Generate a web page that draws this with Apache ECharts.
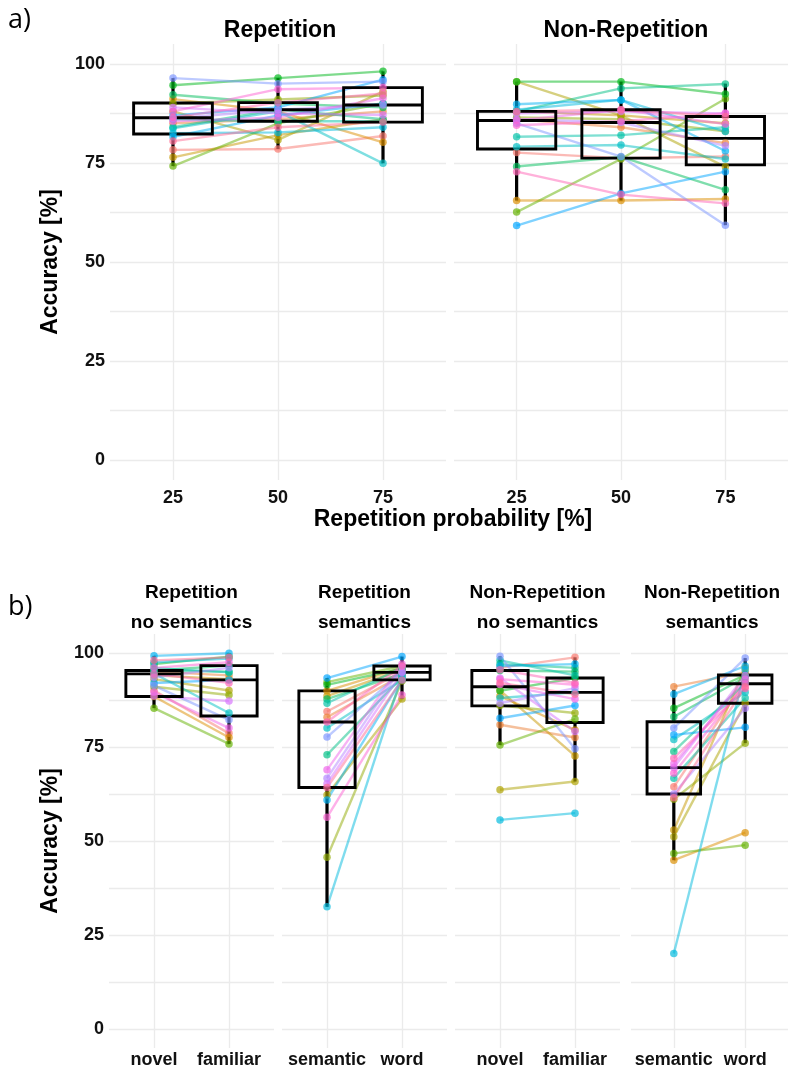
<!DOCTYPE html>
<html>
<head>
<meta charset="utf-8">
<script src="https://cdn.jsdelivr.net/npm/echarts@6/dist/echarts.min.js"></script>
<style>
  html, body { margin: 0; padding: 0; background: #fff; }
  #chart { width: 788px; height: 1072px; }
</style>
</head>
<body>
<div id="chart"></div>
<script>
// ---- data ----
const probLabels = ['25', '50', '75'];
const panelAFacets = ['Repetition', 'Non-Repetition'];
const panelBFacets = ['Repetition\nno semantics', 'Repetition\nsemantics', 'Non-Repetition\nno semantics', 'Non-Repetition\nsemantics'];
const panelBCats = [['novel', 'familiar'], ['semantic', 'word'], ['novel', 'familiar'], ['semantic', 'word']];
const yTicks = [0, 25, 50, 75, 100];
const yGrid = [0, 12.5, 25, 37.5, 50, 62.5, 75, 87.5, 100];

// one value per participant (same order in every array)
const rep25 = [78.3, 85, 91.1, 76.4, 88, 90, 74.2, 94.6, 92.2, 84, 86, 83.7, 82.5, 81.6, 87, 96.4, 86.2, 89, 85.5, 88, 86.5, 80.5];
const rep50 = [78.5, 86, 88, 82, 80.8, 91, 85, 96.4, 90, 88.5, 85.5, 88, 82.7, 87, 89, 95, 88.4, 87.5, 86.5, 93.6, 90.2, 84];
const rep75 = [81.8, 88, 80.2, 86, 93, 92, 90, 98.1, 89, 86, 85.5, 74.9, 84, 90, 96, 95.5, 89.6, 87.1, 91.3, 94, 92.5, 85.3];
const nonRep25 = [77.6, 86, 65.5, 88, 95.5, 86.5, 62.6, 95.5, 74.1, 88, 81.6, 79.1, 88.4, 89.8, 59.2, 85, 86, 87.5, 85.7, 84.5, 72.8, 88];
const nonRep50 = [76.2, 84, 65.5, 87, 87, 86, 76, 95.5, 76.5, 93.8, 82, 79.5, 90.9, 90.9, 67.3, 76.6, 85.2, 88, 88.4, 85.5, 67, 88.4];
const nonRep75 = [76.6, 80, 65.9, 85, 74, 83, 91.2, 92.4, 68.2, 94.9, 84, 76, 82.9, 78, 72.8, 59.3, 79.3, 87.5, 84.8, 87.5, 64.8, 86.7];

const repNoSemNovel = [90, 95, 88.4, 94, 93, 91, 85.3, 97, 95.3, 95.3, 96, 94.5, 97.5, 99.2, 92, 91.3, 93.5, 88.5, 89.5, 96, 94.4, 98];
const repNoSemFamiliar = [78.6, 94, 77.5, 93, 90, 88.8, 75.8, 99, 96.6, 95, 94.8, 84, 98.5, 99.9, 92.8, 82.2, 96, 87.2, 80, 97.5, 92, 98.8];
const repSemSemantic = [84.4, 82.9, 89.9, 88.5, 62.2, 45.7, 92.2, 91.5, 87.7, 72.9, 86.6, 80, 32.5, 60.9, 93.3, 77.6, 66.7, 65.2, 68.9, 56.3, 81.6, 64.2];
const repSemWord = [95, 94, 96, 95.5, 87.7, 92.5, 96.5, 95.8, 94.5, 93.5, 96, 92.8, 94, 93, 99, 95, 96.2, 94.8, 97, 88.8, 96.5, 92.8];
const nonRepNoSemNovel = [96, 80.9, 88.5, 90, 63.6, 86, 75.5, 89.9, 95.3, 97, 98, 88, 55.6, 96.5, 82.6, 99.1, 86.6, 93.3, 91.6, 93, 95.5, 92];
const nonRepNoSemFamiliar = [98.8, 77.5, 79.5, 72.6, 65.8, 84, 82.4, 93.3, 95, 96, 94, 89.5, 57.4, 97, 86, 74.5, 90.6, 79.1, 87.7, 91.5, 92, 89];
const nonRepSemSemantic = [64.4, 91, 44.9, 52.9, 51.1, 61.1, 46.7, 85.3, 83, 73.8, 66.7, 77, 20.1, 89, 78.2, 80, 62.5, 69.5, 70.5, 68, 72, 61.5];
const nonRepSemWord = [92.5, 94.8, 52.2, 96, 86.6, 76, 48.9, 94.1, 93.5, 92, 88, 89.5, 95.5, 96.5, 80.2, 98.6, 85.3, 94, 93, 91.8, 90.5, 91];

// box stats: [lower whisker, Q1, median, Q3, upper whisker]
const boxRep = [[74.2, 82.3, 86.4, 90.1, 96.4], [78.5, 85.5, 88.4, 90.2, 96.4], [74.9, 85.3, 89.6, 94.0, 98.1]];
const boxNonRep = [[65.5, 78.5, 85.7, 88.0, 95.5], [65.5, 76.2, 85.2, 88.4, 95.5], [59.3, 74.5, 81.2, 86.7, 95.0]];
const boxRepNoSem = [[85.3, 88.4, 94.4, 95.3, 99.2], [75.8, 83.2, 92.8, 96.6, 99.9]];
const boxRepSem = [[32.5, 64.2, 81.6, 89.9, 93.3], [87.7, 92.8, 94.8, 96.5, 99.0]];
const boxNonRepNoSem = [[75.5, 85.9, 91.0, 95.3, 99.1], [65.8, 81.5, 89.5, 93.3, 98.8]];
const boxNonRepSem = [[44.9, 62.5, 69.5, 81.7, 90.2], [76.0, 86.6, 91.8, 94.1, 98.6]];

// ---- layout ----
const facets = [
  { cats: probLabels, values: [rep25, rep50, rep75], box: boxRep, grid: { left: 110, top: 44, width: 336, height: 436 }, yLabels: true },
  { cats: probLabels, values: [nonRep25, nonRep50, nonRep75], box: boxNonRep, grid: { left: 454, top: 44, width: 341, height: 436 } },
  { cats: panelBCats[0], values: [repNoSemNovel, repNoSemFamiliar], box: boxRepNoSem, grid: { left: 109, top: 634, width: 165, height: 414 }, yLabels: true, small: true },
  { cats: panelBCats[1], values: [repSemSemantic, repSemWord], box: boxRepSem, grid: { left: 282, top: 634, width: 165, height: 414 }, small: true },
  { cats: panelBCats[2], values: [nonRepNoSemNovel, nonRepNoSemFamiliar], box: boxNonRepNoSem, grid: { left: 455, top: 634, width: 165, height: 414 }, small: true },
  { cats: panelBCats[3], values: [nonRepSemSemantic, nonRepSemWord], box: boxNonRepSem, grid: { left: 631, top: 634, width: 165, height: 414 }, small: true }
];

const FONT = '"Liberation Sans", Arial, sans-serif';
const nPart = rep25.length;

// ggplot-like hue palette (hcl, l=65, c=100)
function hueColor(i, n, alpha) {
  const h = (15 + 360 * i / n) * Math.PI / 180;
  const L = 65, C = 100;
  const U = C * Math.cos(h), V = C * Math.sin(h);
  const Xn = 95.047, Yn = 100, Zn = 108.883;
  const den = Xn + 15 * Yn + 3 * Zn;
  const un = 4 * Xn / den, vn = 9 * Yn / den;
  const Y = Yn * Math.pow((L + 16) / 116, 3);
  const u = U / (13 * L) + un, v = V / (13 * L) + vn;
  const X = Y * 9 * u / (4 * v), Z = Y * (12 - 3 * u - 20 * v) / (4 * v);
  const x = X / 100, y = Y / 100, z = Z / 100;
  const r = 3.2406 * x - 1.5372 * y - 0.4986 * z;
  const g = -0.9689 * x + 1.8758 * y + 0.0415 * z;
  const b = 0.0557 * x - 0.2040 * y + 1.0570 * z;
  const gam = c => {
    c = c <= 0.0031308 ? 12.92 * c : 1.055 * Math.pow(c, 1 / 2.4) - 0.055;
    return Math.round(255 * Math.min(1, Math.max(0, c)));
  };
  return 'rgba(' + gam(r) + ',' + gam(g) + ',' + gam(b) + ',' + alpha + ')';
}

function renderBox(params, api) {
  const x = api.value(0);
  const lo = api.coord([x, api.value(1)]);
  const q1 = api.coord([x, api.value(2)]);
  const md = api.coord([x, api.value(3)]);
  const q3 = api.coord([x, api.value(4)]);
  const hi = api.coord([x, api.value(5)]);
  const w = api.size([0.75, 0])[0];
  const style = { stroke: '#000', lineWidth: 2.9, fill: null };
  const wStyle = { stroke: '#000', lineWidth: 3.2 };
  return {
    type: 'group',
    children: [
      { type: 'line', shape: { x1: lo[0], y1: lo[1], x2: q1[0], y2: q1[1] }, style: wStyle },
      { type: 'line', shape: { x1: q3[0], y1: q3[1], x2: hi[0], y2: hi[1] }, style: wStyle },
      { type: 'rect', shape: { x: q3[0] - w / 2, y: q3[1], width: w, height: q1[1] - q3[1] }, style: style },
      { type: 'line', shape: { x1: md[0] - w / 2, y1: md[1], x2: md[0] + w / 2, y2: md[1] }, style: style }
    ]
  };
}

const grids = [], xAxes = [], yAxes = [], series = [];
facets.forEach((f, gi) => {
  grids.push(Object.assign({ containLabel: false }, f.grid));
  const cats = f.cats;
  xAxes.push({
    type: 'value', gridIndex: gi, min: 0.4, max: cats.length + 0.6,
    axisLine: { show: false },
    axisTick: { show: false, customValues: cats.map((c, i) => i + 1) },
    axisLabel: {
      customValues: cats.map((c, i) => i + 1),
      formatter: v => cats[Math.round(v) - 1] || '',
      fontFamily: FONT, fontWeight: 'bold', fontSize: 18, color: '#111',
      margin: f.small ? 3 : 9
    },
    splitLine: { show: true, lineStyle: { color: '#ebebeb', width: 1.3 } }
  });
  yAxes.push({
    type: 'value', gridIndex: gi, min: -5, max: 105,
    axisLine: { show: false },
    axisTick: { show: false, customValues: yGrid },
    axisLabel: {
      show: !!f.yLabels, customValues: yTicks,
      fontFamily: FONT, fontWeight: 'bold', fontSize: 18, color: '#111', margin: 5
    },
    splitLine: { show: true, lineStyle: { color: '#ebebeb', width: 1.3 } }
  });
  // participant lines
  for (let p = 0; p < nPart; p++) {
    series.push({
      type: 'line', xAxisIndex: gi, yAxisIndex: gi, silent: true, z: 1,
      symbol: 'none', animation: false,
      data: f.values.map((arr, ci) => [ci + 1, arr[p]]),
      lineStyle: { color: hueColor(p, nPart, 0.5), width: 2.4 }
    });
  }
  // boxplots
  series.push({
    type: 'custom', xAxisIndex: gi, yAxisIndex: gi, z: 2, silent: true, animation: false,
    renderItem: renderBox,
    data: f.box.map((b, ci) => [ci + 1].concat(b))
  });
  // participant points
  const pts = [];
  f.values.forEach((arr, ci) => {
    arr.forEach((v, p) => {
      pts.push({ value: [ci + 1, v], itemStyle: { color: hueColor(p, nPart, 0.85) } });
    });
  });
  series.push({
    type: 'scatter', xAxisIndex: gi, yAxisIndex: gi, z: 3, silent: true, animation: false,
    symbolSize: 7.5, data: pts
  });
});

const titleFont = (size) => 'bold ' + size + 'px ' + FONT;
const graphics = [
  { type: 'text', x: 8, y: 20, style: { text: 'a)', font: '27px "Open Sans", sans-serif', fill: '#000', verticalAlign: 'middle' } },
  { type: 'text', x: 8, y: 607, style: { text: 'b)', font: '27px "Open Sans", sans-serif', fill: '#000', verticalAlign: 'middle' } },
  { type: 'text', x: 280, y: 31, style: { text: panelAFacets[0], font: titleFont(23), fill: '#000', align: 'center', verticalAlign: 'middle' } },
  { type: 'text', x: 626, y: 31, style: { text: panelAFacets[1], font: titleFont(23), fill: '#000', align: 'center', verticalAlign: 'middle' } },
  { type: 'text', x: 453, y: 520, style: { text: 'Repetition probability [%]', font: titleFont(23), fill: '#000', align: 'center', verticalAlign: 'middle' } },
  { type: 'text', x: 51, y: 262, rotation: Math.PI / 2, style: { text: 'Accuracy [%]', font: titleFont(23), fill: '#000', align: 'center', verticalAlign: 'middle' } },
  { type: 'text', x: 51, y: 841, rotation: Math.PI / 2, style: { text: 'Accuracy [%]', font: titleFont(23), fill: '#000', align: 'center', verticalAlign: 'middle' } }
];
const bCenters = [191.5, 364.5, 537.5, 712];
panelBFacets.forEach((t, i) => {
  graphics.push({ type: 'text', x: bCenters[i], y: 608, style: { text: t, font: titleFont(19), lineHeight: 30, fill: '#000', align: 'center', verticalAlign: 'middle' } });
});

const chart = echarts.init(document.getElementById('chart'));
chart.setOption({
  backgroundColor: '#fff',
  animation: false,
  grid: grids,
  xAxis: xAxes,
  yAxis: yAxes,
  series: series,
  graphic: graphics
});
</script>
</body>
</html>
